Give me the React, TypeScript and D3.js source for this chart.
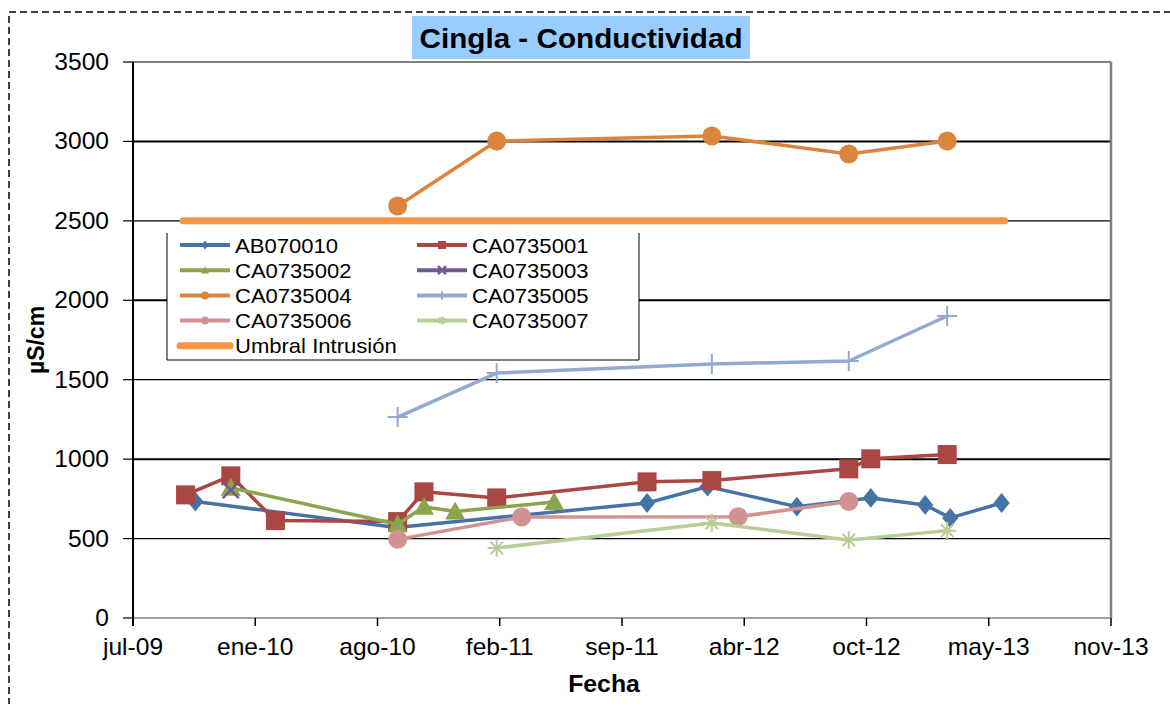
import React from 'react';
import * as d3 from 'd3';

// fechas de las marcas del eje (Excel: 40000 + 200 días)
const tickDates = ['2009-07-06', '2010-01-22', '2010-08-10', '2011-02-26', '2011-09-14', '2012-04-01', '2012-10-18', '2013-05-06', '2013-11-22'];
const monthNames = ['ene', 'feb', 'mar', 'abr', 'may', 'jun', 'jul', 'ago', 'sep', 'oct', 'nov', 'dic'];
const yTicks = [0, 500, 1000, 1500, 2000, 2500, 3000, 3500];

const ab070010 = [
  ['2009-10-16', 733], ['2010-09-10', 570], ['2011-10-25', 724], ['2012-02-01', 827], ['2012-06-26', 701],
  ['2012-10-25', 756], ['2013-01-22', 712], ['2013-03-04', 630], ['2013-05-27', 724],
];
const ca0735001 = [
  ['2009-09-30', 775], ['2009-12-13', 895], ['2010-02-24', 613], ['2010-09-12', 607], ['2010-10-25', 794],
  ['2011-02-21', 756], ['2011-10-25', 857], ['2012-02-08', 865], ['2012-09-19', 939], ['2012-10-25', 1002],
  ['2013-02-27', 1029],
];
const ca0735002 = [['2009-12-13', 820], ['2010-09-12', 590], ['2010-10-25', 700], ['2010-12-15', 670], ['2011-05-26', 730]];
const ca0735003 = [['2009-12-13', 805]];
const ca0735004 = [['2010-09-12', 2594], ['2011-02-21', 3003], ['2012-02-08', 3034], ['2012-09-19', 2921], ['2013-02-27', 3003]];
const ca0735005 = [['2010-09-12', 1265], ['2011-02-21', 1542], ['2012-02-08', 1599], ['2012-09-19', 1618], ['2013-02-27', 1901]];
const ca0735006 = [['2010-09-12', 495], ['2011-04-03', 636], ['2012-03-22', 638], ['2012-09-19', 733]];
const ca0735007 = [['2011-02-21', 441], ['2012-02-08', 598], ['2012-09-19', 491], ['2013-02-27', 550]];
const umbral = [['2009-09-26', 2500], ['2013-06-01', 2500]];

const series = [
  { name: 'AB070010', data: ab070010, color: '#4572A7', marker: 'diamond' },
  { name: 'CA0735001', data: ca0735001, color: '#AA4643', marker: 'square' },
  { name: 'CA0735002', data: ca0735002, color: '#89A54E', marker: 'triangle' },
  { name: 'CA0735003', data: ca0735003, color: '#71588F', marker: 'x' },
  { name: 'CA0735004', data: ca0735004, color: '#DB843D', marker: 'circle' },
  { name: 'CA0735005', data: ca0735005, color: '#93A9CF', marker: 'plus' },
  { name: 'CA0735006', data: ca0735006, color: '#D19392', marker: 'circle' },
  { name: 'CA0735007', data: ca0735007, color: '#B9CD96', marker: 'star' },
  { name: 'Umbral Intrusión', data: umbral, color: '#F79646', marker: 'none' },
];

const parse = d3.utcParse('%Y-%m-%d');
const font = '"Liberation Sans", Arial, sans-serif';

const W = 1170;
const H = 704;
const plot = { left: 133, right: 1111, top: 62, bottom: 618 };

const x = d3.scaleUtc()
  .domain([parse(tickDates[0]), parse(tickDates[tickDates.length - 1])])
  .range([plot.left, plot.right]);
const y = d3.scaleLinear().domain([0, 3500]).range([plot.bottom, plot.top]);

const fmtDate = (d) => monthNames[d.getUTCMonth()] + '-' + String(d.getUTCFullYear() % 100).padStart(2, '0');

function Marker({ type, cx, cy, color, s }) {
  const h = s / 2;
  if (type === 'square') return <rect x={cx - h} y={cy - h} width={s} height={s} fill={color} />;
  if (type === 'circle') return <circle cx={cx} cy={cy} r={h} fill={color} />;
  if (type === 'diamond')
    return <path d={`M${cx},${cy - h * 1.1}L${cx + h * 0.9},${cy}L${cx},${cy + h * 1.1}L${cx - h * 0.9},${cy}Z`} fill={color} />;
  if (type === 'triangle')
    return <path d={`M${cx},${cy - h}L${cx + h},${cy + h * 0.8}L${cx - h},${cy + h * 0.8}Z`} fill={color} />;
  if (type === 'x')
    return <path d={`M${cx - h},${cy - h}L${cx + h},${cy + h}M${cx + h},${cy - h}L${cx - h},${cy + h}`} stroke={color} strokeWidth={2.5} />;
  if (type === 'plus')
    return <path d={`M${cx - h},${cy}L${cx + h},${cy}M${cx},${cy - h}L${cx},${cy + h}`} stroke={color} strokeWidth={2} />;
  if (type === 'star')
    return (
      <path
        d={`M${cx - h},${cy}L${cx + h},${cy}M${cx},${cy - h}L${cx},${cy + h}M${cx - h * 0.7},${cy - h * 0.7}L${cx + h * 0.7},${cy + h * 0.7}M${cx + h * 0.7},${cy - h * 0.7}L${cx - h * 0.7},${cy + h * 0.7}`}
        stroke={color}
        strokeWidth={2}
      />
    );
  return null;
}

const markerSize = { square: 19, circle: 19, diamond: 18, triangle: 20, x: 16, plus: 20, star: 18 };

// texto algo ensanchado, como en la imagen original
function WideText({ x: tx, y: ty, sx = 1.1, children, ...rest }) {
  return (
    <text transform={`translate(${tx},${ty}) scale(${sx},1)`} {...rest}>
      {children}
    </text>
  );
}

export default function App() {
  const line = d3.line().x((d) => x(parse(d[0]))).y((d) => y(d[1]));
  const ticks = tickDates.map((t) => parse(t));

  const legendRows = series.map((s, i) => ({ ...s, col: i % 2, row: Math.floor(i / 2) }));

  return (
    <svg width={W} height={H} style={{ position: 'absolute', left: 0, top: 0, background: '#fff' }} fontFamily={font}>
      <rect x={9} y={12} width={1300} height={900} fill="none" stroke="#000" strokeWidth={1.5} strokeDasharray="7,4" />

      {/* rejilla */}
      {yTicks.filter((t) => t > 0 && t < 3500).map((t) => (
        <line key={t} x1={plot.left} x2={plot.right} y1={y(t)} y2={y(t)} stroke="#000" strokeWidth={t % 1000 === 0 ? 2 : 1.2} />
      ))}
      <line x1={plot.left} x2={plot.right} y1={plot.top} y2={plot.top} stroke="#808080" strokeWidth={2} />
      <line x1={plot.right} x2={plot.right} y1={plot.top} y2={plot.bottom} stroke="#808080" strokeWidth={2.5} />
      <line x1={plot.left} x2={plot.right} y1={plot.bottom} y2={plot.bottom} stroke="#808080" strokeWidth={1.5} />
      <line x1={plot.left} x2={plot.left} y1={plot.top} y2={plot.bottom + 8} stroke="#000" strokeWidth={2} />

      {/* eje y */}
      {yTicks.map((t) => (
        <g key={t}>
          <line x1={plot.left - 10} x2={plot.left} y1={y(t)} y2={y(t)} stroke="#000" strokeWidth={1.2} />
          <WideText x={109} y={y(t)} sx={1.07} dy="0.35em" textAnchor="end" fontSize={23}>{t}</WideText>
        </g>
      ))}

      {/* eje x */}
      {ticks.map((t, i) => (
        <g key={i}>
          <line x1={x(t)} x2={x(t)} y1={plot.bottom} y2={plot.bottom + 8} stroke="#000" strokeWidth={1.5} />
          <WideText x={x(t)} y={655} sx={1.07} textAnchor="middle" fontSize={23}>{fmtDate(t)}</WideText>
        </g>
      ))}

      <WideText x={604} y={692} sx={1.08} textAnchor="middle" fontSize={23} fontWeight="bold">Fecha</WideText>
      <text transform="translate(44,340) rotate(-90)" textAnchor="middle" fontSize={23} fontWeight="bold">µS/cm</text>

      {/* series */}
      {series.map((s) => (
        <g key={s.name}>
          <path
            d={line(s.data)}
            fill="none"
            stroke={s.color}
            strokeWidth={s.marker === 'none' ? 7 : 3.5}
            strokeLinecap={s.marker === 'none' ? 'round' : 'butt'}
            strokeLinejoin="round"
          />
          {s.data.map((d, j) => (
            <Marker key={j} type={s.marker} cx={x(parse(d[0]))} cy={y(d[1])} color={s.color} s={markerSize[s.marker]} />
          ))}
        </g>
      ))}

      {/* leyenda */}
      <rect x={167} y={233} width={472} height={127} fill="#fff" />
      <path d="M167,233V360H639V233" fill="none" stroke="#000" strokeWidth={1} />
      {legendRows.map((s) => {
        const lx = s.col === 0 ? 180 : 417;
        const ly = 245 + s.row * 25.2;
        return (
          <g key={s.name}>
            <line x1={lx} x2={lx + 50} y1={ly} y2={ly} stroke={s.color} strokeWidth={s.marker === 'none' ? 7 : 4} strokeLinecap={s.marker === 'none' ? 'round' : 'butt'} />
            <Marker type={s.marker} cx={lx + 25} cy={ly} color={s.color} s={8} />
            <WideText x={lx + 55} y={ly} sx={1.05} dy="0.36em" fontSize={21}>{s.name}</WideText>
          </g>
        );
      })}

      {/* título */}
      <rect x={412} y={16} width={338} height={43} fill="#99CCFF" />
      <WideText x={581} y={38} sx={1.06} dy="0.36em" textAnchor="middle" fontSize={28} fontWeight="bold">Cingla - Conductividad</WideText>
    </svg>
  );
}
